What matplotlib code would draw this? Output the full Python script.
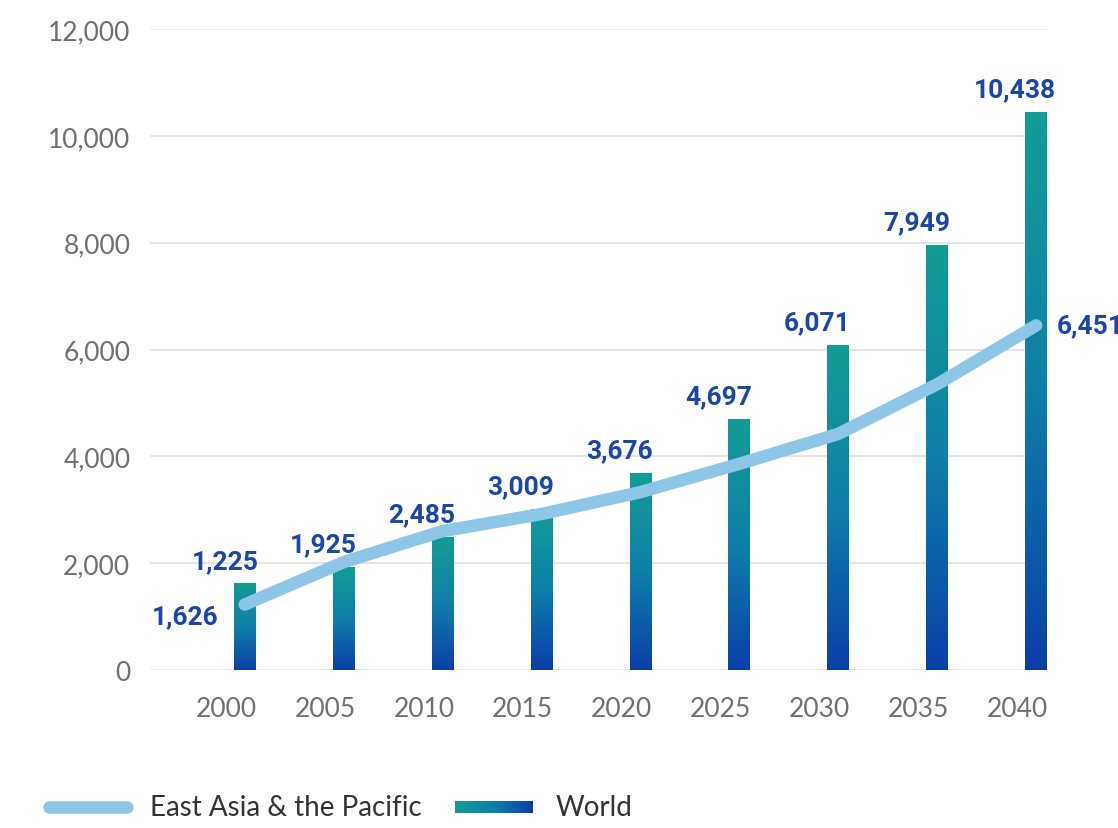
import numpy as np
import matplotlib
matplotlib.use('Agg')
import matplotlib.pyplot as plt
from matplotlib.colors import LinearSegmentedColormap
from matplotlib.lines import Line2D

# Data
years = ['2000', '2005', '2010', '2015', '2020', '2025', '2030', '2035', '2040']
world = [1626, 1925, 2485, 3009, 3676, 4697, 6071, 7949, 10438]
east_asia = [1225, 2020, 2600, 2920, 3330, 3860, 4420, 5350, 6451]
y_ticks = [0, 2000, 4000, 6000, 8000, 10000, 12000]

LABEL_BLUE = '#1c47a6'
LINE_BLUE = '#8ec6e8'
GRAY = '#707070'
bar_cmap = LinearSegmentedColormap.from_list('world', ['#0a3fa9', '#0e7fa8', '#129d96'])


def fmt(v):
    return f'{v:,}'


fig = plt.figure(figsize=(11.18, 8.29), dpi=100)
ax = fig.add_axes([0.134, 0.1906, 0.8025, 0.7732])

x = np.arange(len(years))
width = 0.22

# Gradient bars for World
grad = np.linspace(0, 1, 256).reshape(-1, 1)
for i, v in enumerate(world):
    ax.imshow(grad, extent=[x[i] - width / 2, x[i] + width / 2, 0, v],
              aspect='auto', cmap=bar_cmap, origin='lower', zorder=2)

# East Asia line
ax.plot(x, east_asia, color=LINE_BLUE, lw=9, solid_capstyle='round',
        solid_joinstyle='round', zorder=3)

# Value labels
lab = dict(color=LABEL_BLUE, fontsize=19, fontweight='bold', family='Roboto',
           textcoords='offset points', zorder=4)
for i, v in enumerate(world):
    if i == 0:
        ax.annotate(fmt(v), (x[i], v), xytext=(-43, -24), ha='center', va='center', **lab)
    else:
        ax.annotate(fmt(v), (x[i], v), xytext=(-15, 8), ha='center', va='bottom', **lab)
ax.annotate(fmt(east_asia[0]), (x[0], east_asia[0]), xytext=(-14, 31),
            ha='center', va='center', **lab)
ax.annotate(fmt(east_asia[-1]), (x[-1], east_asia[-1]), xytext=(15, 0),
            ha='left', va='center', **lab)

# Axes styling
ax.set_xlim(-0.96, 8.11)
ax.set_ylim(0, 12000)
ax.set_yticks(y_ticks)
ax.set_yticklabels([fmt(t) for t in y_ticks])
# year labels sit a little left of the bars
ax.set_xticks(x - 0.19)
ax.set_xticklabels(years)
ax.grid(axis='y', color='#e2e2e2', lw=1.3, zorder=0)
ax.set_axisbelow(True)
for s in ax.spines.values():
    s.set_visible(False)
ax.tick_params(length=0, labelsize=19, labelcolor=GRAY)
ax.tick_params(axis='y', pad=14)
ax.tick_params(axis='x', pad=19)
for t in ax.get_xticklabels() + ax.get_yticklabels():
    t.set_family('Lato')

# Legend
ly = 1 - 808 / 829
fig.add_artist(Line2D([49 / 1118, 127 / 1118], [ly, ly], transform=fig.transFigure,
                      lw=9, color=LINE_BLUE, solid_capstyle='round'))
fig.text(150 / 1118, ly, 'East Asia & the Pacific', va='center', ha='left',
         fontsize=20, color='#333333', family='Lato')
lax = fig.add_axes([455 / 1118, (829 - 814) / 829, 78 / 1118, 12 / 829])
lax.imshow(np.linspace(1, 0, 256).reshape(1, -1), aspect='auto', cmap=bar_cmap)
lax.axis('off')
fig.text(556 / 1118, ly, 'World', va='center', ha='left',
         fontsize=20, color='#333333', family='Lato')

fig.savefig('out.png', dpi=100)
